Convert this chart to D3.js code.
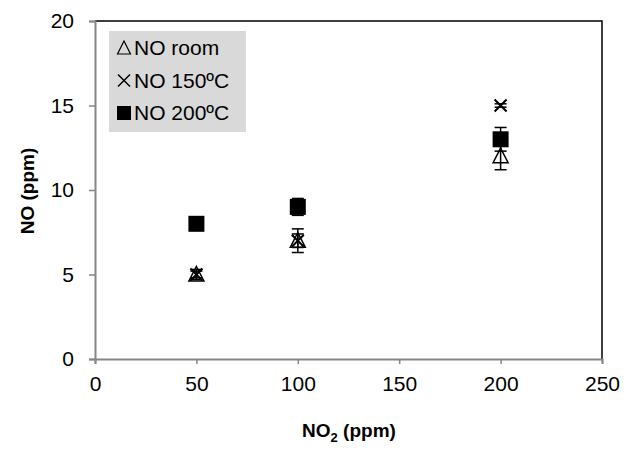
<!DOCTYPE html>
<html>
<head>
<meta charset="utf-8">
<script src="https://cdnjs.cloudflare.com/ajax/libs/d3/7.8.5/d3.min.js"></script>
<style>
  body { margin: 0; background: #fff; }
  text { font-family: "Liberation Sans", Arial, sans-serif; }
</style>
</head>
<body>
<script>
// data
const no2 = [50, 100, 200];
const noRoom = [5, 7, 12];
const noRoomErr = [0.3, 0.7, 0.8];
const no150 = [5, 7, 15];
const no150Err = [0.2, 0.4, 0.1];
const no200 = [8, 9, 13];
const no200Err = [0.2, 0.5, 0.7];
const xTicks = [0, 50, 100, 150, 200, 250];
const yTicks = [0, 5, 10, 15, 20];
const legendLabels = ["NO room", "NO 150ºC", "NO 200ºC"];

const w = 626, h = 457;
const pLeft = 95, pRight = 602, pTop = 21, pBottom = 359;

const svg = d3.select("body").append("svg")
  .attr("width", w).attr("height", h);

const x = d3.scaleLinear().domain([0, 250]).range([pLeft, pRight]);
const y = d3.scaleLinear().domain([0, 20]).range([pBottom, pTop]);

// plot border (top / right black)
svg.append("path")
  .attr("d", `M${pLeft},${pTop}H${pRight}V${pBottom}`)
  .attr("fill", "none").attr("stroke", "#000").attr("stroke-width", 1.5);

const xAxis = svg.append("g")
  .attr("transform", `translate(0,${pBottom})`)
  .call(d3.axisBottom(x).tickValues(xTicks).tickSize(5).tickPadding(12));
const yAxis = svg.append("g")
  .attr("transform", `translate(${pLeft},0)`)
  .call(d3.axisLeft(y).tickValues(yTicks).tickSize(6).tickPadding(15));

[xAxis, yAxis].forEach(g => {
  g.select(".domain").attr("stroke", "#868686").attr("stroke-width", 2);
  g.selectAll(".tick line").attr("stroke", "#868686").attr("stroke-width", 1.5);
  g.selectAll(".tick text").attr("fill", "#000")
    .style("font-size", "21px").style("font-family", "Liberation Sans, Arial, sans-serif");
});

// axis titles
svg.append("text")
  .attr("x", 349).attr("y", 437)
  .attr("text-anchor", "middle")
  .style("font-size", "19px").style("font-weight", "bold")
  .html('NO<tspan dy="5" font-size="13px">2</tspan><tspan dy="-5"> (ppm)</tspan>');

svg.append("text")
  .attr("transform", "translate(34,191) rotate(-90)")
  .attr("text-anchor", "middle")
  .style("font-size", "19px").style("font-weight", "bold")
  .text("NO (ppm)");

// error bars
function errBars(vals, errs) {
  const g = svg.append("g").attr("stroke", "#000").attr("stroke-width", 1.5);
  no2.forEach((d, i) => {
    const cx = x(d), y1 = y(vals[i] + errs[i]), y2 = y(vals[i] - errs[i]);
    g.append("line").attr("x1", cx).attr("x2", cx).attr("y1", y1).attr("y2", y2);
    g.append("line").attr("x1", cx - 6).attr("x2", cx + 6).attr("y1", y1).attr("y2", y1);
    g.append("line").attr("x1", cx - 6).attr("x2", cx + 6).attr("y1", y2).attr("y2", y2);
  });
}

const tri = "M0,-8L7.5,6.5L-7.5,6.5Z";
const cross = "M-6,-6L6,6M6,-6L-6,6";

// NO 200C squares
errBars(no200, no200Err);
svg.append("g").selectAll("rect").data(no200).join("rect")
  .attr("x", (d, i) => x(no2[i]) - 8).attr("y", d => y(d) - 8)
  .attr("width", 16).attr("height", 16).attr("fill", "#000");

// NO room triangles
errBars(noRoom, noRoomErr);
svg.append("g").selectAll("path").data(noRoom).join("path")
  .attr("d", tri)
  .attr("transform", (d, i) => `translate(${x(no2[i])},${y(d)})`)
  .attr("fill", "none").attr("stroke", "#000").attr("stroke-width", 1.5);

// NO 150C crosses
errBars(no150, no150Err);
svg.append("g").selectAll("path").data(no150).join("path")
  .attr("d", cross)
  .attr("transform", (d, i) => `translate(${x(no2[i])},${y(d)})`)
  .attr("fill", "none").attr("stroke", "#000").attr("stroke-width", 2);

// legend
const lg = svg.append("g");
lg.append("rect").attr("x", 109).attr("y", 31).attr("width", 137).attr("height", 101)
  .attr("fill", "#d9d9d9");
const rows = lg.selectAll("g.row").data(legendLabels).join("g")
  .attr("class", "row")
  .attr("transform", (d, i) => `translate(0,${55 + i * 32.5})`);
rows.append("text").attr("x", 134).attr("y", 0)
  .style("font-size", "21px").text(d => d);
rows.filter((d, i) => i === 0).append("path")
  .attr("d", "M0,-7L6.5,6L-6.5,6Z")
  .attr("transform", "translate(124,-7)")
  .attr("fill", "none").attr("stroke", "#000").attr("stroke-width", 1.2);
rows.filter((d, i) => i === 1).append("path")
  .attr("d", "M-6,-6L6,6M6,-6L-6,6")
  .attr("transform", "translate(124,-7)")
  .attr("fill", "none").attr("stroke", "#000").attr("stroke-width", 1.5);
rows.filter((d, i) => i === 2).append("rect")
  .attr("x", 117).attr("y", -14).attr("width", 14).attr("height", 14)
  .attr("fill", "#000");
</script>
</body>
</html>
